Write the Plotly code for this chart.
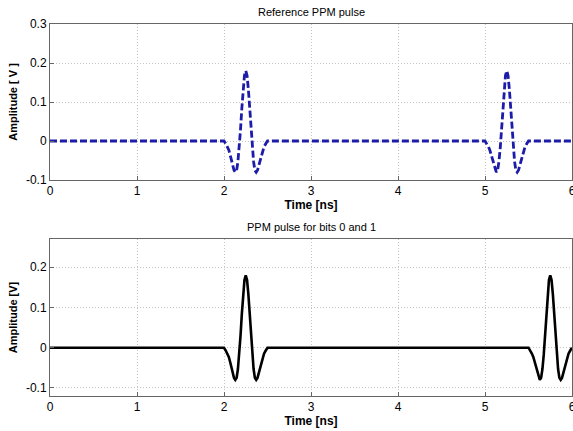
import plotly.graph_objects as go

# Pulse shape (offset from pulse start in ns, amplitude in V)
pulse_offsets = [0.00, 0.02, 0.04, 0.055, 0.07, 0.085, 0.10, 0.115, 0.13, 0.145, 0.16, 0.175,
                 0.19, 0.205, 0.22, 0.235, 0.25, 0.265, 0.28, 0.295, 0.31, 0.325, 0.34,
                 0.355, 0.37, 0.385, 0.40, 0.415, 0.43, 0.445, 0.46, 0.48, 0.50]
pulse_values = [0.0, -0.007, -0.015, -0.023, -0.035, -0.049, -0.063, -0.075, -0.080, -0.075,
                -0.053, -0.018, 0.030, 0.084, 0.133, 0.168, 0.180, 0.168, 0.133, 0.084,
                0.030, -0.018, -0.053, -0.075, -0.080, -0.075, -0.063, -0.049, -0.035,
                -0.023, -0.015, -0.007, 0.0]

ref_pulse_starts = [2.0, 5.0]     # reference PPM pulse
bit_pulse_starts = [2.0, 5.5]     # PPM pulse for bits 0 and 1
t_start, t_end = 0.0, 6.0

x_ticks = [0, 1, 2, 3, 4, 5, 6]
y_ticks_top = [-0.1, 0, 0.1, 0.2, 0.3]
y_ticks_bot = [-0.1, 0, 0.1, 0.2]


def build(starts):
    xs, ys = [t_start], [0.0]
    for s in starts:
        for o, v in zip(pulse_offsets, pulse_values):
            xs.append(s + o)
            ys.append(v)
    if xs[-1] < t_end:
        xs.append(t_end)
        ys.append(0.0)
    return xs, ys


x1, y1 = build(ref_pulse_starts)
x2, y2 = build(bit_pulse_starts)

fig = go.Figure()
fig.add_trace(go.Scatter(x=x1, y=y1, mode="lines", xaxis="x", yaxis="y",
                         line=dict(color="#1c1ca8", width=2.8, dash="7px,3px"),
                         showlegend=False))
fig.add_trace(go.Scatter(x=x2, y=y2, mode="lines", xaxis="x2", yaxis="y2",
                         line=dict(color="black", width=2.6),
                         showlegend=False))

font = "Liberation Sans, Arial, sans-serif"
axis_common = dict(showline=True, mirror=True, linecolor="#666", linewidth=1,
                   ticks="inside", ticklen=4, tickcolor="#666",
                   showgrid=True, gridcolor="#c4c4c4", griddash="1px,2px", gridwidth=1,
                   zeroline=False, ticklabeloverflow="allow", automargin=False,
                   tickfont=dict(family=font, size=12, color="black"))
title_font = dict(family=font, size=12, color="black")

fig.update_layout(
    width=573, height=431,
    margin=dict(l=50, r=1, t=24, b=35),
    paper_bgcolor="white", plot_bgcolor="white",
    xaxis=dict(domain=[0, 1], anchor="y", range=[0, 6], tickvals=x_ticks,
               title=dict(text="<b>Time [ns]</b>", font=title_font, standoff=2),
               **axis_common),
    yaxis=dict(domain=[0.5806, 1], anchor="x", range=[-0.1, 0.3], tickvals=y_ticks_top,
               ticktext=["-0.1", "0", "0.1", "0.2", "0.3"],
               title=dict(text="<b>Amplitude [ V ]</b>", font=dict(family=font, size=11, color="black"), standoff=6),
               **axis_common),
    xaxis2=dict(domain=[0, 1], anchor="y2", range=[0, 6], tickvals=x_ticks,
                title=dict(text="<b>Time [ns]</b>", font=title_font, standoff=2),
                **axis_common),
    yaxis2=dict(domain=[0, 0.422], anchor="x2", range=[-0.12, 0.27], tickvals=y_ticks_bot,
                ticktext=["-0.1", "0", "0.1", "0.2"],
                title=dict(text="<b>Amplitude [V]</b>", font=dict(family=font, size=11, color="black"), standoff=6),
                **axis_common),
    annotations=[
        dict(text="Reference PPM pulse", x=0.5, y=1, xref="paper", yref="paper",
             xanchor="center", yanchor="bottom", yshift=4, showarrow=False,
             font=dict(family=font, size=11, color="black")),
        dict(text="PPM pulse for bits 0 and 1", x=0.5, y=0.422, xref="paper", yref="paper",
             xanchor="center", yanchor="bottom", yshift=4, showarrow=False,
             font=dict(family=font, size=11, color="black")),
    ],
)

fig.write_html("out.html")
